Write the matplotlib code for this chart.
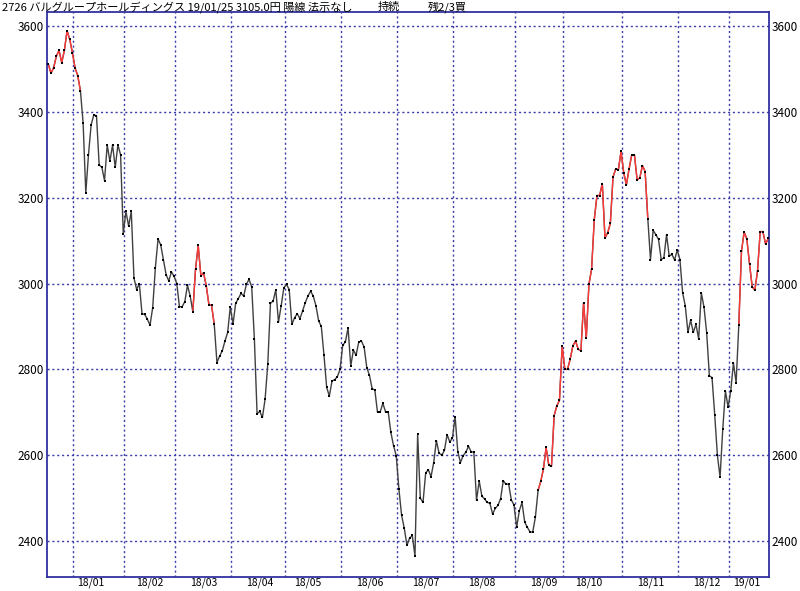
import matplotlib
matplotlib.use("Agg")
import matplotlib.pyplot as plt
import numpy as np

plt.rcParams['font.family'] = ['Noto Sans CJK JP', 'DejaVu Sans']

# header texts
title = "2726 バルグループホールディングス 19/01/25 3105.0円 陽線 法示なし"
title_state = "持続"
title_signal = "残2/3買"

# daily closes, one list per month (Dec 2017 tail .. Jan 2019)
dec17 = [3511, 3490, 3503, 3530, 3543, 3515, 3543, 3589, 3569, 3538]
jan18 = [3502, 3484, 3449, 3374, 3211, 3300, 3370, 3393, 3391, 3276,
         3271, 3240, 3323, 3285, 3323, 3271, 3323, 3300, 3116]
feb18 = [3168, 3134, 3168, 3013, 2986, 3000, 2930, 2928, 2917, 2903,
         2944, 3037, 3104, 3090, 3055, 3021, 3006, 3027, 3017]
mar18 = [3000, 2946, 2946, 2958, 2996, 2971, 2934, 3033, 3089, 3018,
         3025, 2995, 2951, 2949, 2905, 2816, 2831, 2843, 2866, 2886, 2946]
apr18 = [2905, 2954, 2965, 2977, 2971, 2998, 3010, 2992, 2870, 2697,
         2702, 2688, 2731, 2812, 2954, 2959, 2986, 2910, 2948, 2990]
may18 = [2998, 2986, 2905, 2920, 2930, 2918, 2936, 2955, 2971, 2982,
         2971, 2948, 2913, 2900, 2833, 2758, 2738, 2773, 2776, 2783, 2800]
jun18 = [2856, 2864, 2897, 2808, 2845, 2833, 2864, 2866, 2852, 2804,
         2786, 2755, 2752, 2700, 2701, 2721, 2701, 2701, 2653, 2622, 2599]
jul18 = [2521, 2460, 2430, 2390, 2407, 2413, 2365, 2649, 2500, 2490,
         2559, 2566, 2550, 2583, 2634, 2605, 2600, 2611, 2648, 2631, 2640]
aug18 = [2690, 2608, 2583, 2599, 2607, 2621, 2608, 2607, 2495, 2540,
         2505, 2498, 2490, 2488, 2463, 2476, 2483, 2499, 2541, 2532,
         2533, 2496, 2484]
sep18 = [2432, 2471, 2490, 2444, 2432, 2421, 2421, 2456, 2518, 2539,
         2568, 2618, 2577, 2574, 2692, 2715, 2728, 2855]
oct18 = [2800, 2800, 2824, 2855, 2866, 2847, 2843, 2955, 2872, 2998,
         3034, 3149, 3205, 3205, 3233, 3106, 3118, 3140, 3248, 3267,
         3265, 3308]
nov18 = [3258, 3230, 3267, 3300, 3300, 3242, 3246, 3275, 3261, 3151,
         3056, 3124, 3114, 3103, 3056, 3060, 3114, 3064, 3068, 3055, 3078]
dec18 = [3056, 2979, 2948, 2886, 2915, 2886, 2905, 2871, 2978, 2945,
         2885, 2785, 2781, 2694, 2600, 2549, 2660, 2750, 2712]
jan19 = [2750, 2815, 2769, 2903, 3075, 3120, 3104, 3046, 2993, 2984,
         3030, 3121, 3121, 3092, 3105]

months = [jan18, feb18, mar18, apr18, may18, jun18, jul18, aug18,
          sep18, oct18, nov18, dec18, jan19]
month_labels = ["18/01", "18/02", "18/03", "18/04", "18/05", "18/06",
                "18/07", "18/08", "18/09", "18/10", "18/11", "18/12", "19/01"]
# trading day of the 15th inside each month (label position)
label_offsets = [6, 9, 10, 10, 8, 10, 10, 10, 10, 9, 10, 10, 6]
# stretches drawn in red (first, last day index)
red_spans = [(0, 12), (54, 62), (183, 224), (258, 269)]
y_ticks = [2400, 2600, 2800, 3000, 3200, 3400, 3600]

closes = list(dec17)
month_starts = []
for m in months:
    month_starts.append(len(closes))
    closes += m
closes = np.array(closes)
x = np.arange(len(closes))

grid_col = "#3a3aa8"
frame_col = "#3030a0"

fig = plt.figure(figsize=(8, 5.91), dpi=100)
ax = fig.add_axes([0.0584, 0.0235, 0.9029, 0.9557])

for s in month_starts:
    ax.axvline(s - 0.7, color=grid_col, lw=1, ls=(0, (1.5, 2)), zorder=1)
for yv in y_ticks:
    ax.axhline(yv, color=grid_col, lw=1, ls=(0, (1.5, 2)), zorder=1)

ax.plot(x, closes, color="#404040", lw=1.0, zorder=2)
for a, b in red_spans:
    ax.plot(x[a:b + 1], closes[a:b + 1], color="#ff3838", lw=1.0, zorder=3)
ax.plot(x, closes, ls="none", marker="s", ms=1.5, mew=0, color="black", zorder=4)

ax.set_xlim(-0.6, 269.3)
ax.set_ylim(2316, 3632)

ax.set_yticks(y_ticks)
ax.set_yticklabels([str(v) for v in y_ticks])
ax.tick_params(axis="y", length=0, labelsize=8.5, pad=2,
               labelleft=True, labelright=True)
ax.set_xticks([s + o for s, o in zip(month_starts, label_offsets)])
ax.set_xticklabels(month_labels)
ax.tick_params(axis="x", length=0, labelsize=7.5, pad=0.5)

for sp in ax.spines.values():
    sp.set_color(frame_col)
    sp.set_linewidth(1.3)

fig.text(2 / 800, 1 - 7 / 591, title, fontsize=8, va="center", ha="left")
fig.text(378 / 800, 1 - 7 / 591, title_state, fontsize=8, va="center", ha="left")
fig.text(428 / 800, 1 - 7 / 591, title_signal, fontsize=8, va="center", ha="left")

fig.savefig("out.png", dpi=100)
